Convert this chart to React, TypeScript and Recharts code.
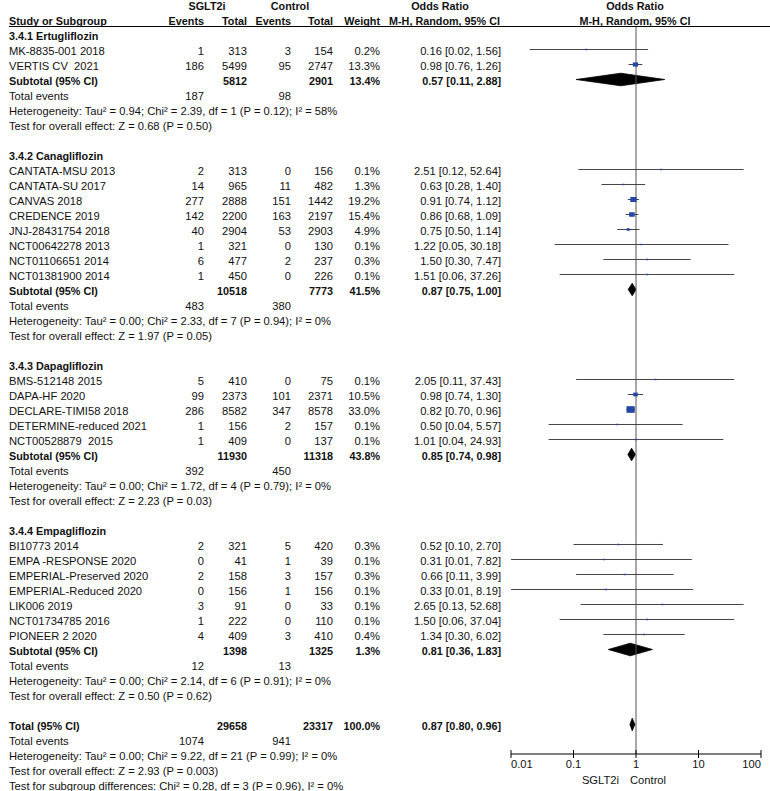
import React from 'react';
import { ComposedChart, Scatter, ErrorBar, Area, XAxis, YAxis, ReferenceLine } from 'recharts';

// subgroups
const groupNames = ['3.4.1 Ertugliflozin', '3.4.2 Canagliflozin', '3.4.3 Dapagliflozin', '3.4.4 Empagliflozin'];

// individual studies
const studyNames = [
  'MK-8835-001 2018', 'VERTIS CV  2021',
  'CANTATA-MSU 2013', 'CANTATA-SU 2017', 'CANVAS 2018', 'CREDENCE 2019', 'JNJ-28431754 2018',
  'NCT00642278 2013', 'NCT01106651 2014', 'NCT01381900 2014',
  'BMS-512148 2015', 'DAPA-HF 2020', 'DECLARE-TIMI58 2018', 'DETERMINE-reduced 2021', 'NCT00528879  2015',
  'BI10773 2014', 'EMPA -RESPONSE 2020', 'EMPERIAL-Preserved 2020', 'EMPERIAL-Reduced 2020', 'LIK006 2019',
  'NCT01734785 2016', 'PIONEER 2 2020',
];
const studyGroup = [0, 0, 1, 1, 1, 1, 1, 1, 1, 1, 2, 2, 2, 2, 2, 3, 3, 3, 3, 3, 3, 3];
const sgltEvents = [1, 186, 2, 14, 277, 142, 40, 1, 6, 1, 5, 99, 286, 1, 1, 2, 0, 2, 0, 3, 1, 4];
const sgltTotal = [313, 5499, 313, 965, 2888, 2200, 2904, 321, 477, 450, 410, 2373, 8582, 156, 409, 321, 41, 158, 156, 91, 222, 409];
const ctrlEvents = [3, 95, 0, 11, 151, 163, 53, 0, 2, 0, 0, 101, 347, 2, 0, 5, 1, 3, 1, 0, 0, 3];
const ctrlTotal = [154, 2747, 156, 482, 1442, 2197, 2903, 130, 237, 226, 75, 2371, 8578, 157, 137, 420, 39, 157, 156, 33, 110, 410];
const studyWeight = [0.2, 13.3, 0.1, 1.3, 19.2, 15.4, 4.9, 0.1, 0.3, 0.1, 0.1, 10.5, 33.0, 0.1, 0.1, 0.3, 0.1, 0.3, 0.1, 0.1, 0.1, 0.4];
const studyOR = [0.16, 0.98, 2.51, 0.63, 0.91, 0.86, 0.75, 1.22, 1.5, 1.51, 2.05, 0.98, 0.82, 0.5, 1.01, 0.52, 0.31, 0.66, 0.33, 2.65, 1.5, 1.34];
const studyLow = [0.02, 0.76, 0.12, 0.28, 0.74, 0.68, 0.5, 0.05, 0.3, 0.06, 0.11, 0.74, 0.7, 0.04, 0.04, 0.1, 0.01, 0.11, 0.01, 0.13, 0.06, 0.3];
const studyHigh = [1.56, 1.26, 52.64, 1.4, 1.12, 1.09, 1.14, 30.18, 7.47, 37.26, 37.43, 1.3, 0.96, 5.57, 24.93, 2.7, 7.82, 3.99, 8.19, 52.68, 37.04, 6.02];

// pooled results: four subgroups, then overall (index 4)
const poolSgltTotal = [5812, 10518, 11930, 1398, 29658];
const poolCtrlTotal = [2901, 7773, 11318, 1325, 23317];
const poolWeight = [13.4, 41.5, 43.8, 1.3, 100.0];
const poolOR = [0.57, 0.87, 0.85, 0.81, 0.87];
const poolLow = [0.11, 0.75, 0.74, 0.36, 0.8];
const poolHigh = [2.88, 1.0, 0.98, 1.83, 0.96];
const poolSgltEvents = [187, 483, 392, 12, 1074];
const poolCtrlEvents = [98, 380, 450, 13, 941];
const tau2 = [0.94, 0.0, 0.0, 0.0, 0.0];
const chi2 = [2.39, 2.33, 1.72, 2.14, 9.22];
const hetDf = [1, 7, 4, 6, 21];
const hetP = ['0.12', '0.94', '0.79', '0.91', '0.99'];
const iSquared = [58, 0, 0, 0, 0];
const zValue = [0.68, 1.97, 2.23, 0.5, 2.93];
const zP = ['0.50', '0.05', '0.03', '0.62', '0.003'];
const diffChi2 = 0.28, diffDf = 3, diffP = '0.96', diffI2 = 0;

const axisTicks = [0.01, 0.1, 1, 10, 100];

type Row = { kind: 'group' | 'study' | 'pooled' | 'events' | 'het' | 'z' | 'blank' | 'diff'; i?: number; g?: number };

const rows: Row[] = [];
groupNames.forEach((_, g) => {
  rows.push({ kind: 'group', g });
  studyNames.forEach((__, i) => { if (studyGroup[i] === g) rows.push({ kind: 'study', i }); });
  rows.push({ kind: 'pooled', g }, { kind: 'events', g }, { kind: 'het', g }, { kind: 'z', g }, { kind: 'blank' });
});
rows.push({ kind: 'pooled', g: 4 }, { kind: 'events', g: 4 }, { kind: 'het', g: 4 }, { kind: 'z', g: 4 }, { kind: 'diff' });

const studyPoints = rows
  .map((r, idx) => ({ r, idx }))
  .filter(({ r }) => r.kind === 'study')
  .map(({ r, idx }) => {
    const i = r.i as number;
    return { x: studyOR[i], y: idx, ci: [studyOR[i] - studyLow[i], studyHigh[i] - studyOR[i]], w: studyWeight[i] };
  });

const HALF = 0.42;
const diamonds = rows
  .map((r, idx) => ({ r, idx }))
  .filter(({ r }) => r.kind === 'pooled')
  .map(({ r, idx }) => {
    const g = r.g as number;
    return [
      { x: poolLow[g], band: [idx, idx] },
      { x: poolOR[g], band: [idx - HALF, idx + HALF] },
      { x: poolHigh[g], band: [idx, idx] },
    ];
  });

const FONT = "'Liberation Sans', Arial, sans-serif";
const INK = '#111';
const COL = { name: 9, e1: 204, n1: 247, e2: 291, n2: 333, w: 380, or: 501 };

const fmtCI = (o: number, l: number, h: number) => `${o.toFixed(2)} [${l.toFixed(2)}, ${h.toFixed(2)}]`;

function RowTick({ y, payload }: any) {
  const idx = payload.value as number;
  const ty = y + 5.5;
  const t = (x: number, s: string | number, anchor: 'start' | 'middle' | 'end' = 'end', bold = false, key?: string) => (
    <text key={key ?? `${x}-${s}`} x={x} y={ty} textAnchor={anchor} fill={INK} fontFamily={FONT}
      fontSize={bold ? 10.8 : 11.2} fontWeight={bold ? 'bold' : 'normal'} style={{ whiteSpace: 'pre' }}>{s}</text>
  );
  if (idx === -2) {
    return (
      <g>
        {t(207, 'SGLT2i', 'middle', true)}
        {t(290, 'Control', 'middle', true)}
        {t(440, 'Odds Ratio', 'middle', true, 'or1')}
        {t(635, 'Odds Ratio', 'middle', true, 'or2')}
      </g>
    );
  }
  if (idx === -1) {
    return (
      <g>
        {t(COL.name, 'Study or Subgroup', 'start', true)}
        {t(COL.e1, 'Events', 'end', true, 'ev1')}
        {t(COL.n1, 'Total', 'end', true, 'to1')}
        {t(COL.e2, 'Events', 'end', true, 'ev2')}
        {t(COL.n2, 'Total', 'end', true, 'to2')}
        {t(COL.w, 'Weight', 'end', true)}
        {t(500, 'M-H, Random, 95% CI', 'end', true, 'mh1')}
        {t(635, 'M-H, Random, 95% CI', 'middle', true, 'mh2')}
        <line x1={9} x2={770} y1={y + 7} y2={y + 7} stroke="#000" strokeWidth={1.2} />
      </g>
    );
  }
  const r = rows[idx];
  if (!r) return null;
  const g = r.g as number;
  switch (r.kind) {
    case 'group':
      return <g>{t(COL.name, groupNames[g], 'start', true)}</g>;
    case 'study': {
      const i = r.i as number;
      return (
        <g>
          {t(COL.name, studyNames[i], 'start')}
          {t(COL.e1, sgltEvents[i], 'end', false, 'a')}
          {t(COL.n1, sgltTotal[i], 'end', false, 'b')}
          {t(COL.e2, ctrlEvents[i], 'end', false, 'c')}
          {t(COL.n2, ctrlTotal[i], 'end', false, 'd')}
          {t(COL.w, `${studyWeight[i].toFixed(1)}%`, 'end', false, 'e')}
          {t(COL.or, fmtCI(studyOR[i], studyLow[i], studyHigh[i]), 'end', false, 'f')}
        </g>
      );
    }
    case 'pooled':
      return (
        <g>
          {t(COL.name, g === 4 ? 'Total (95% CI)' : 'Subtotal (95% CI)', 'start', true)}
          {t(COL.n1, poolSgltTotal[g], 'end', true, 'b')}
          {t(COL.n2, poolCtrlTotal[g], 'end', true, 'd')}
          {t(COL.w, `${poolWeight[g].toFixed(1)}%`, 'end', true, 'e')}
          {t(COL.or, fmtCI(poolOR[g], poolLow[g], poolHigh[g]), 'end', true, 'f')}
        </g>
      );
    case 'events':
      return (
        <g>
          {t(COL.name, 'Total events', 'start')}
          {t(COL.e1, poolSgltEvents[g], 'end', false, 'a')}
          {t(COL.e2, poolCtrlEvents[g], 'end', false, 'c')}
        </g>
      );
    case 'het':
      return (
        <g>
          {t(COL.name, `Heterogeneity: Tau² = ${tau2[g].toFixed(2)}; Chi² = ${chi2[g].toFixed(2)}, df = ${hetDf[g]} (P = ${hetP[g]}); I² = ${iSquared[g]}%`, 'start')}
        </g>
      );
    case 'z':
      return <g>{t(COL.name, `Test for overall effect: Z = ${zValue[g].toFixed(2)} (P = ${zP[g]})`, 'start')}</g>;
    case 'diff':
      return (
        <g>
          {t(COL.name, `Test for subgroup differences: Chi² = ${diffChi2.toFixed(2)}, df = ${diffDf} (P = ${diffP}), I² = ${diffI2}%`, 'start')}
        </g>
      );
    default:
      return null;
  }
}

function AxisTick({ x, y, payload, index }: any) {
  const anchor = index === 0 ? 'start' : index === axisTicks.length - 1 ? 'end' : 'middle';
  const txt = { fill: INK, fontFamily: FONT, fontSize: 11.2 };
  return (
    <g>
      <line x1={x} x2={x} y1={y - 4} y2={y + 4} stroke="#000" />
      <text x={x} y={y + 14} textAnchor={anchor} {...txt}>{payload.value}</text>
      {payload.value === 1 && (
        <>
          <text x={x - 17} y={y + 30} textAnchor="end" {...txt}>SGLT2i</text>
          <text x={x - 6} y={y + 30} textAnchor="start" {...txt}>Control</text>
        </>
      )}
    </g>
  );
}

const Square = (props: any) => {
  const { cx, cy, payload } = props;
  const s = Math.max(1.5, 1.15 * Math.sqrt(payload.w));
  const w = s * 1.25;
  return <rect x={cx - w / 2} y={cy - s / 2} width={w} height={s} fill="#2346a8" />;
};

const rowTicks = [-2, -1, ...rows.map((_, i) => i)];

export default function App() {
  return (
    <div style={{ position: 'absolute', left: 0, top: 0, width: 770, height: 791, background: '#fff' }}>
      <ComposedChart width={770} height={791} margin={{ top: 27, right: 9, bottom: 0, left: 0 }}>
        <XAxis dataKey="x" type="number" scale="log" domain={[0.01, 100]} allowDataOverflow
          ticks={axisTicks} interval={0} height={37} tickSize={0} tickMargin={0}
          axisLine={{ stroke: '#000' }} tickLine={false} tick={<AxisTick />} />
        <YAxis dataKey="y" type="number" reversed domain={[-0.5, 47.9667]} allowDataOverflow
          ticks={rowTicks} interval={0} width={511} axisLine={false} tickLine={false} tick={<RowTick />} />
        <ReferenceLine x={1} stroke="#555" strokeWidth={1} />
        <Scatter data={studyPoints} shape={Square} isAnimationActive={false}>
          <ErrorBar dataKey="ci" direction="x" width={0} stroke="#444" strokeWidth={1} />
        </Scatter>
        {diamonds.map((d, k) => (
          <Area key={k} data={d} dataKey="band" type="linear" fill="#000" fillOpacity={1}
            stroke="#000" strokeWidth={0.8} dot={false} activeDot={false} isAnimationActive={false} />
        ))}
      </ComposedChart>
    </div>
  );
}
